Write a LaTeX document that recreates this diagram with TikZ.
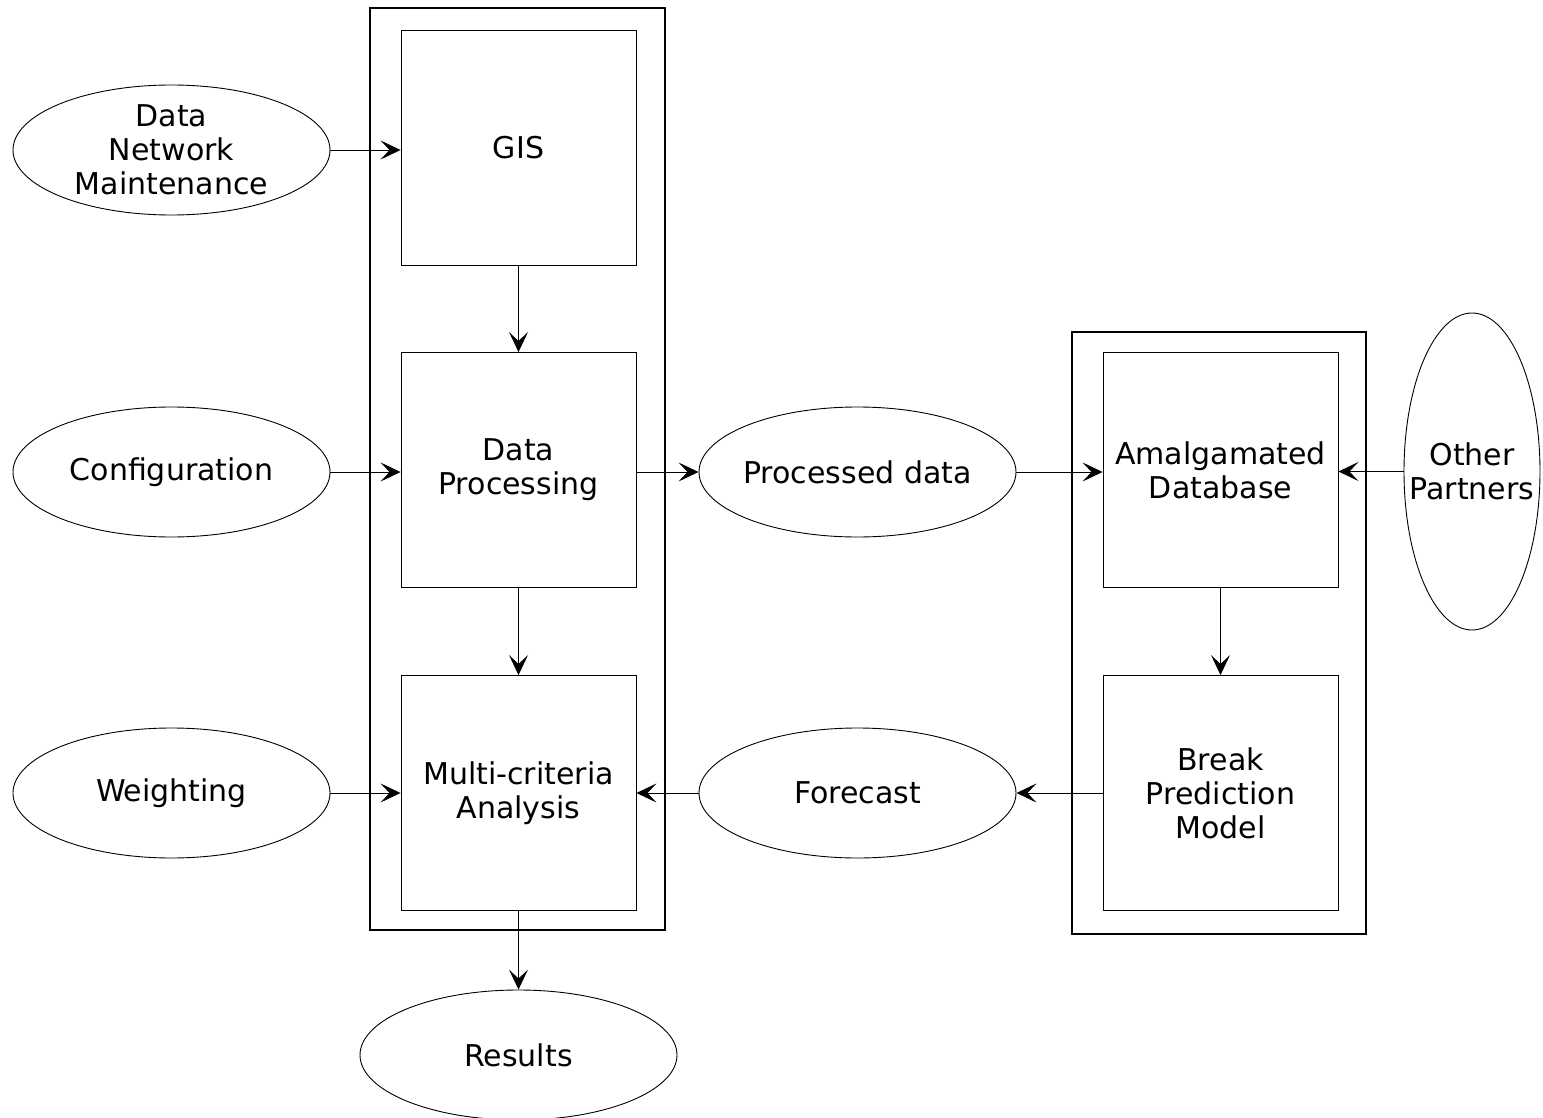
\documentclass[tikz,border=0pt]{standalone}
\usepackage{fontspec}
\setmainfont{DejaVu Sans}
\usetikzlibrary{shapes.geometric,arrows.meta}
\begin{document}
\begin{tikzpicture}[x=1pt,y=-1pt,
  txt/.style={font=\fontsize{30}{34}\selectfont, align=center, inner sep=0pt},
  ell/.style={draw, ellipse, line width=0.9pt, inner sep=0pt, minimum width=317, minimum height=130},
  box/.style={draw, rectangle, line width=0.9pt, inner sep=0pt, minimum width=235, minimum height=235, txt},
  outer/.style={draw, rectangle, line width=2.8pt, inner sep=0pt},
  arr/.style={line width=0.9pt, -{Stealth[length=20pt, width=19pt, inset=9pt]}}
]
\useasboundingbox (0,0) rectangle (1543,1118);
% outer containers
\node[outer, minimum width=295, minimum height=922] (outL) at (517.5,469) {};
\node[outer, minimum width=294, minimum height=602] (outR) at (1219,633) {};
% boxes
\node[box] (gis) at (518.5,147.5) {GIS};
\node[box] (dp) at (518.5,470) {Data\\Processing};
\node[box] (mca) at (518.5,793) {Multi-criteria\\Analysis};
\node[box] (amal) at (1220.5,470) {Amalgamated\\Database};
\node[box] (bpm) at (1220.5,793) {Break\\Prediction\\Model};
% ellipses
\node[ell, label={[txt]center:Data\\Network\\Maintenance}] (dnm) at (171.5,150) {};
\node[ell, label={[txt]center:Configuration}] (conf) at (171.5,472) {};
\node[ell, label={[txt]center:Weighting}] (wgt) at (171.5,793) {};
\node[ell, label={[txt]center:Processed data}] (proc) at (857.5,472) {};
\node[ell, label={[txt]center:Forecast}] (fore) at (857.5,793) {};
\node[ell, label={[txt]center:Results}] (res) at (518.5,1055) {};
\node[ell, minimum width=136, minimum height=317, label={[txt]center:Other\\Partners}] (oth) at (1472,471.5) {};
% connectors
\draw[arr] (dnm.east) -- (dnm.east -| gis.west);
\draw[arr] (conf.east) -- (conf.east -| dp.west);
\draw[arr] (wgt.east) -- (wgt.east -| mca.west);
\draw[arr] (gis.south) -- (dp.north);
\draw[arr] (dp.south) -- (mca.north);
\draw[arr] (mca.south) -- (res.north);
\draw[arr] (dp.east |- proc.west) -- (proc.west);
\draw[arr] (proc.east) -- (proc.east -| amal.west);
\draw[arr] (oth.west) -- (oth.west -| amal.east);
\draw[arr] (amal.south) -- (bpm.north);
\draw[arr] (bpm.west) -- (bpm.west -| fore.east);
\draw[arr] (fore.west) -- (fore.west -| mca.east);
\end{tikzpicture}
\end{document}
